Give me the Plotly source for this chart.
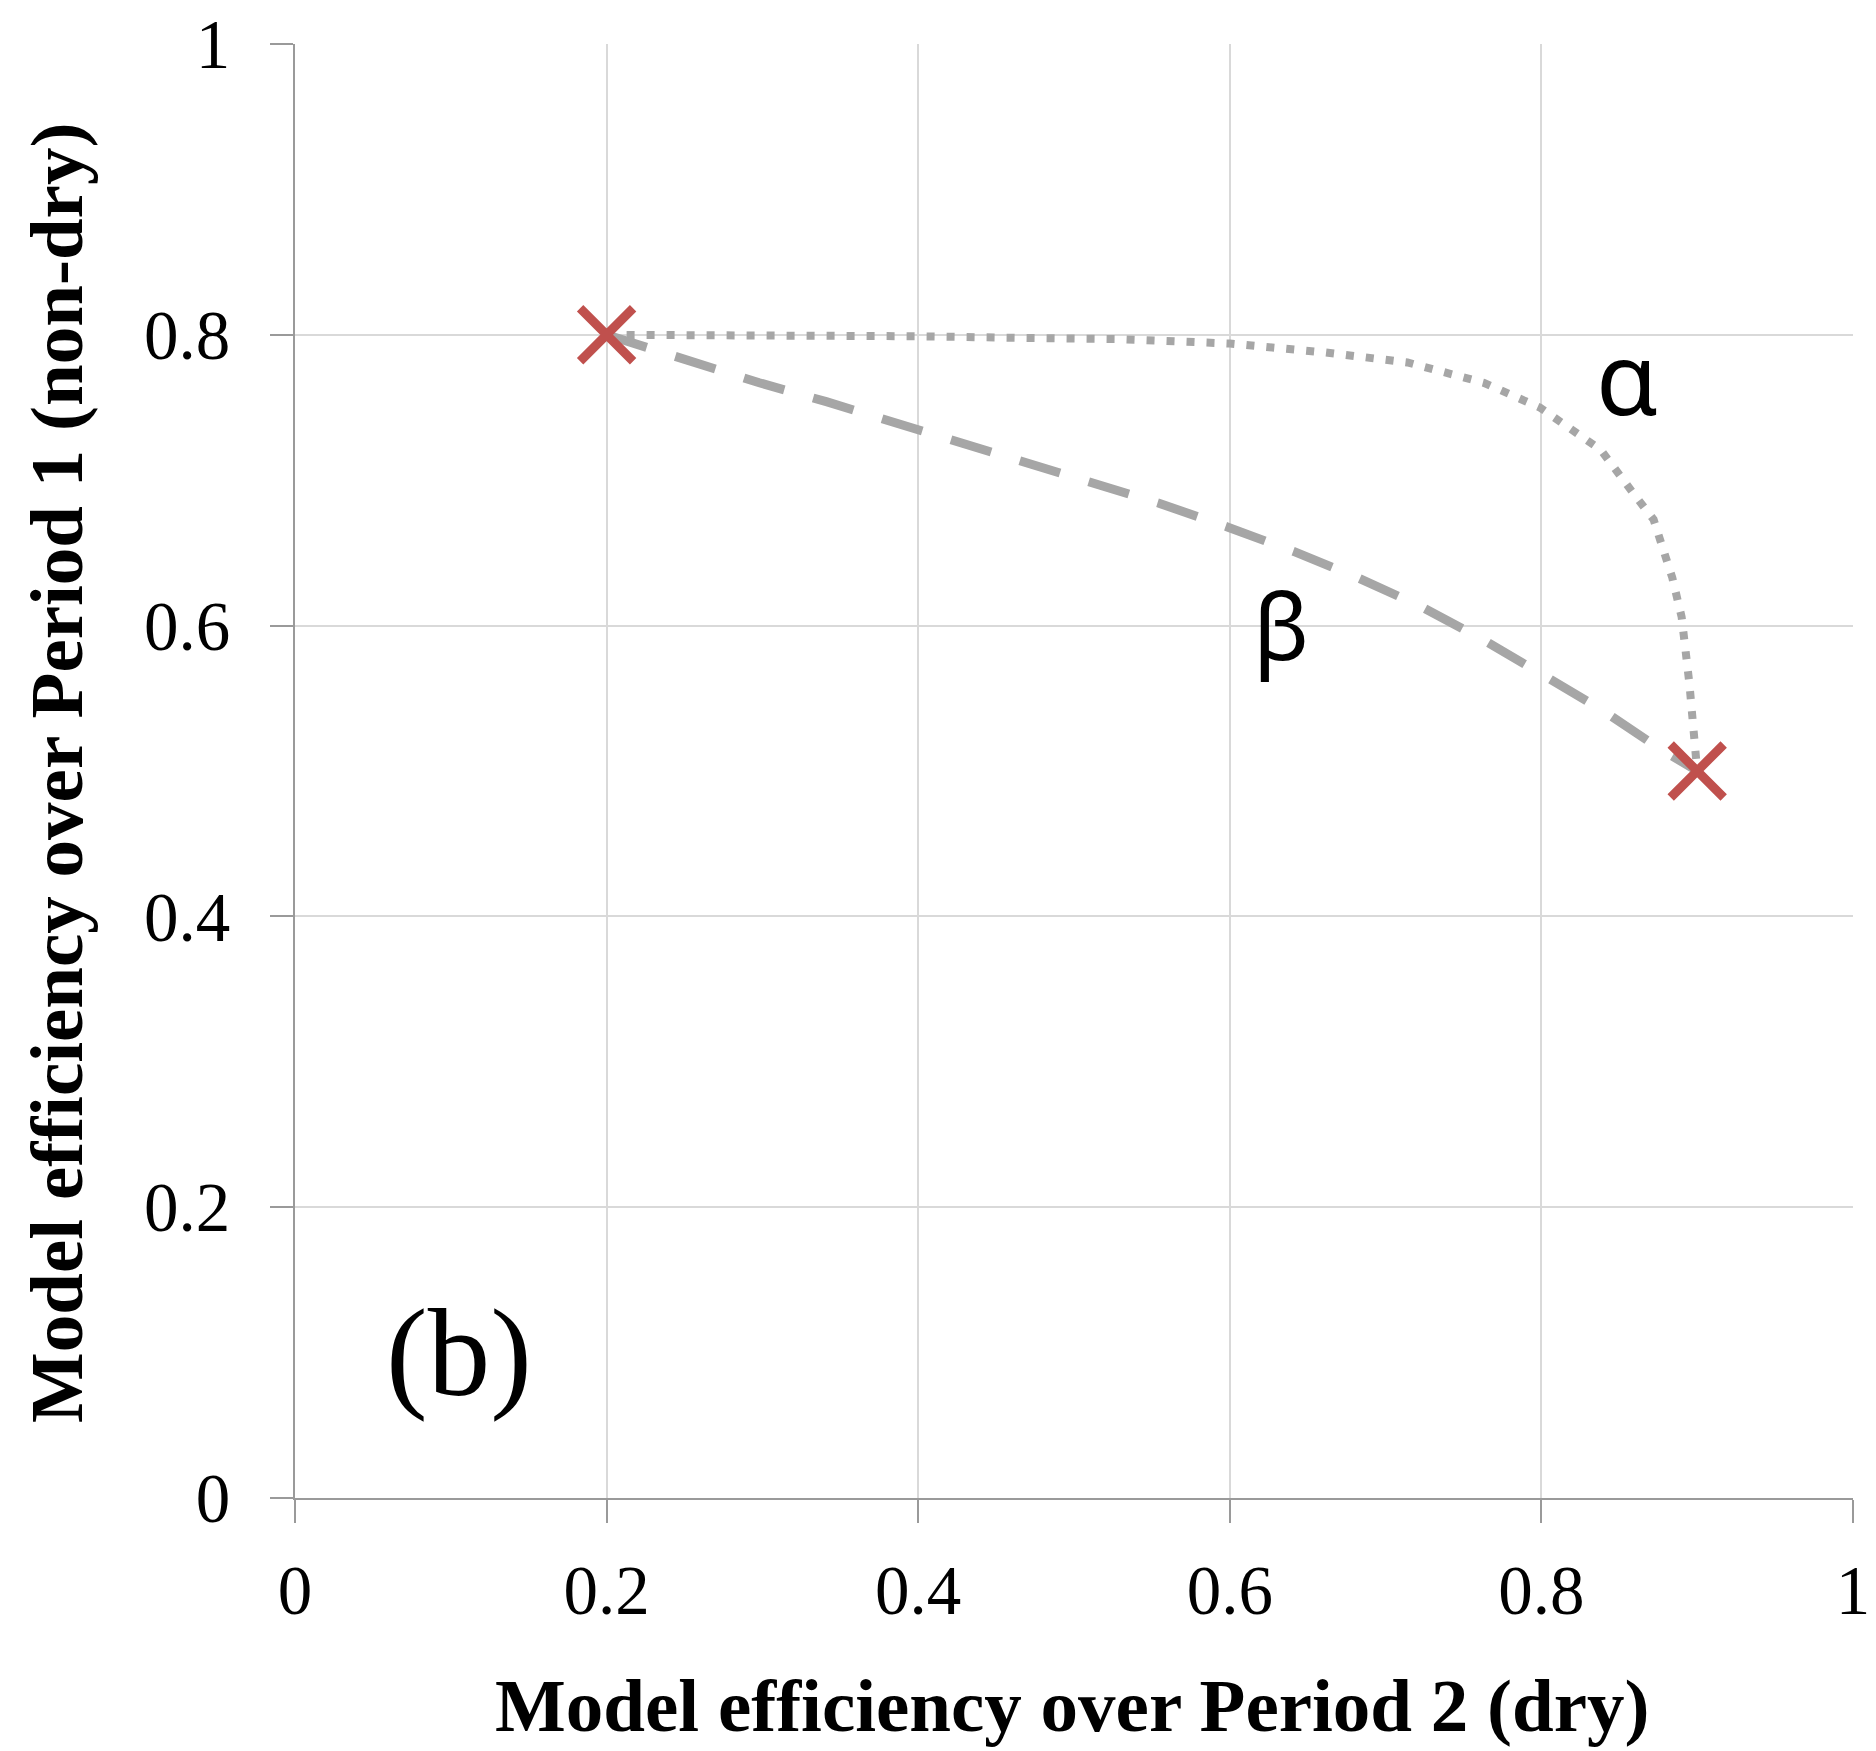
import plotly.graph_objects as go

# Data
end_x = [0.2, 0.9]
end_y = [0.8, 0.5]

alpha_x = [0.2, 0.3, 0.4, 0.46, 0.53, 0.6, 0.66, 0.714, 0.763, 0.799, 0.838, 0.859, 0.872, 0.884, 0.890, 0.895, 0.898, 0.9]
alpha_y = [0.8, 0.8, 0.799, 0.798, 0.797, 0.794, 0.788, 0.781, 0.767, 0.750, 0.721, 0.691, 0.673, 0.633, 0.606, 0.560, 0.53, 0.5]

beta_x = [0.2, 0.255, 0.298, 0.341, 0.384, 0.427, 0.470, 0.512, 0.555, 0.598, 0.641, 0.682, 0.723, 0.763, 0.801, 0.839, 0.875, 0.9]
beta_y = [0.8, 0.781, 0.767, 0.754, 0.740, 0.726, 0.713, 0.699, 0.684, 0.668, 0.651, 0.633, 0.613, 0.590, 0.566, 0.542, 0.516, 0.5]

tick_vals = [0, 0.2, 0.4, 0.6, 0.8, 1]
tick_text = ["0", "0.2", "0.4", "0.6", "0.8", "1"]

x_title = "Model efficiency over Period 2 (dry)"
y_title = "Model efficiency over Period 1 (non-dry)"

W, H = 1876, 1751
L, R, T, B = 295, 23, 44, 253
pw = W - L - R
ph = H - T - B

SERIF = "Liberation Serif"
SANS = "Noto Sans"
GRAY = "#a6a6a6"
RED = "#c0504d"

fig = go.Figure()
fig.add_trace(go.Scatter(x=alpha_x, y=alpha_y, mode="lines", line=dict(color=GRAY, width=8, dash="8px,12px"),
                         hoverinfo="skip", showlegend=False))
fig.add_trace(go.Scatter(x=beta_x, y=beta_y, mode="lines", line=dict(color=GRAY, width=9, dash="42px,30px"),
                         hoverinfo="skip", showlegend=False))
fig.add_trace(go.Scatter(x=end_x, y=end_y, mode="markers",
                         marker=dict(symbol="x-thin", size=53, line=dict(color=RED, width=9), color=RED),
                         showlegend=False))

axis_common = dict(range=[0, 1], tickvals=tick_vals, ticktext=tick_text, showgrid=True, gridcolor="#d9d9d9",
                   gridwidth=2, zeroline=False, showline=True, linecolor="#9a9a9a", linewidth=2,
                   ticks="outside", ticklen=23, tickwidth=2, tickcolor="#9a9a9a", automargin=False,
                   tickfont=dict(family=SERIF, size=69, color="#000000"), fixedrange=True)

fig.update_layout(
    width=W, height=H,
    margin=dict(l=L, r=R, t=T, b=B, pad=0, autoexpand=False),
    paper_bgcolor="white", plot_bgcolor="white",
    xaxis=dict(**axis_common, ticklabelstandoff=8),
    yaxis=dict(**axis_common, ticklabelstandoff=26),
    annotations=[
        dict(text=x_title, xref="paper", yref="paper", x=(1072 - L) / pw, y=-(1705 - (T + ph)) / ph,
             xanchor="center", yanchor="middle", showarrow=False,
             font=dict(family=SERIF, size=75, color="#000000", weight="bold")),
        dict(text=y_title, xref="paper", yref="paper", x=-(L - 57) / pw, y=0.5 + (771 - 773) / ph,
             xanchor="center", yanchor="middle", showarrow=False,
             font=dict(family=SERIF, size=75, color="#000000", weight="bold"), textangle=-90),
        dict(text="α", xref="x", yref="y", x=0.855, y=0.772, xanchor="center", yanchor="middle",
             showarrow=False, font=dict(family=SANS, size=100, color="#000000")),
        dict(text="β", xref="x", yref="y", x=0.633, y=0.601, xanchor="center", yanchor="middle",
             showarrow=False, font=dict(family=SANS, size=92, color="#000000")),
        dict(text="(b)", xref="x", yref="y", x=0.105, y=0.100, xanchor="center", yanchor="middle",
             showarrow=False, font=dict(family=SERIF, size=125, color="#000000")),
    ],
)

fig.write_html("out.html", config=dict(displayModeBar=False))
